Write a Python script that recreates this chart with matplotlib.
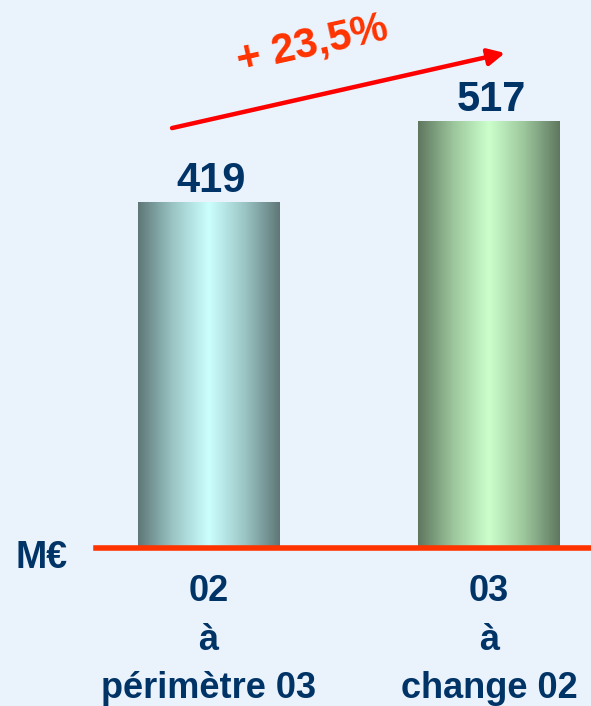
import numpy as np
import matplotlib
matplotlib.use("Agg")
import matplotlib.pyplot as plt
from matplotlib.colors import LinearSegmentedColormap

# ---- data ----
categories = ["02\nà\npérimètre 03", "03\nà\nchange 02"]
values = [419, 517]
growth_label = "+ 23,5%"
unit_label = "M€"

# ---- style ----
BG = "#EAF2FC"
NAVY = "#003366"
ORANGE = "#FF3300"
bar_cmaps = [
    LinearSegmentedColormap.from_list("teal", ["#5F7777", "#9CC6C6", "#CCFFFF", "#9CC6C6", "#5F7777"]),
    LinearSegmentedColormap.from_list("green", ["#5F775F", "#9CC69C", "#CCFFCC", "#9CC69C", "#5F775F"]),
]

W, H, DPI = 591, 706, 100
fig = plt.figure(figsize=(W / DPI, H / DPI), dpi=DPI, facecolor=BG)

# axes: baseline at pixel row 548, spanning full width
base_frac = (H - 548) / H
ax = fig.add_axes([0, base_frac, 1, 1 - base_frac])
ax.set_facecolor(BG)
px_per_unit = 0.825
for s in ax.spines.values():
    s.set_visible(False)
ax.set_yticks([])

x = np.arange(len(values))
width = 0.503
bars = ax.bar(x, values, width=width, color="none", edgecolor="none", zorder=2)

grad = np.linspace(0, 1, 256).reshape(1, -1)
for b, cm in zip(bars, bar_cmaps):
    x0, y0 = b.get_x(), b.get_y()
    w, h = b.get_width(), b.get_height()
    im = ax.imshow(grad, cmap=cm, aspect="auto", extent=(x0, x0 + w, y0, y0 + h),
                   interpolation="bicubic", zorder=2)
    im.set_clip_path(b)

ax.set_xlim(-208.5 / 280.5, 1 + (591 - 489) / 280.5)
ax.set_ylim(0, 548 / px_per_unit)

for xi, v in zip(x, values):
    ax.annotate(str(v), (xi + 0.01, v), xytext=(0, 1), textcoords="offset points",
                ha="center", va="bottom", fontsize=30, fontweight="bold",
                color=NAVY, family="Liberation Sans")

# baseline
ax.axhline(0, xmin=96 / W, xmax=1, color=ORANGE, lw=4, zorder=3, clip_on=False)

# category labels
ax.set_xticks(x)
ax.set_xticklabels(categories, fontsize=26, fontweight="bold", color=NAVY,
                   family="Liberation Sans", linespacing=1.5)
ax.tick_params(axis="x", length=0, pad=19)

# unit label
fig.text(15 / W, 1 - 568 / H, unit_label, fontsize=27, fontweight="bold",
         color=NAVY, family="Liberation Sans", ha="left", va="baseline")

# growth arrow
ax.annotate("", xy=(x[1] + 0.057, values[1] + 83), xytext=(x[0] - 0.13, values[0] + 90),
            arrowprops=dict(arrowstyle="-|>,head_length=1.0,head_width=0.5",
                            color="#FF0000", lw=3.2, shrinkA=0, shrinkB=0), zorder=4)
ax.text(0.37, values[1] + 93, growth_label, fontsize=30, fontweight="bold",
        color=ORANGE, family="Liberation Sans", rotation=12.5,
        ha="center", va="center", rotation_mode="anchor")

fig.savefig("out.png", dpi=DPI, facecolor=BG)
